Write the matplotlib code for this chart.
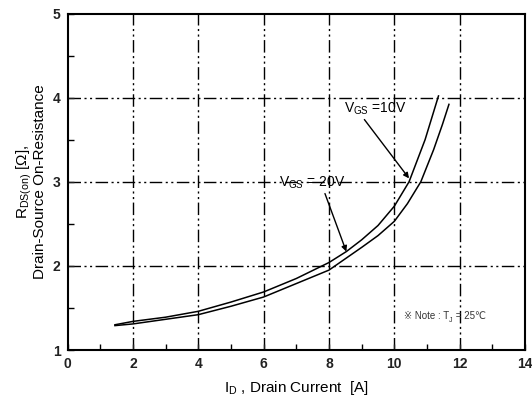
import matplotlib
matplotlib.use("Agg")
import matplotlib.pyplot as plt
from matplotlib.transforms import offset_copy

plt.rcParams['font.family'] = ['Liberation Sans', 'DejaVu Sans', 'Noto Sans CJK SC']
plt.rcParams['mathtext.fontset'] = 'custom'
plt.rcParams['mathtext.rm'] = 'Liberation Sans'
plt.rcParams['mathtext.it'] = 'Liberation Sans'

# Data
id_10v = [1.45, 2, 3, 4, 5, 6, 7, 8, 8.53, 9, 9.5, 10, 10.45, 10.94, 11.35]
r_10v = [1.30, 1.34, 1.39, 1.46, 1.57, 1.69, 1.85, 2.04, 2.17, 2.31, 2.48, 2.71, 3.00, 3.50, 4.02]
id_20v = [1.45, 2, 3, 4, 5, 6, 7, 8, 9, 9.5, 10, 10.4, 10.81, 11.2, 11.47, 11.67]
r_20v = [1.29, 1.31, 1.365, 1.42, 1.52, 1.63, 1.79, 1.95, 2.22, 2.36, 2.53, 2.74, 3.00, 3.38, 3.68, 3.92]

x_ticks = [0, 2, 4, 6, 8, 10, 12, 14]
y_ticks = [1, 2, 3, 4, 5]
x_grid = [2, 4, 6, 8, 10, 12]
y_grid = [2, 3, 4]

fig = plt.figure(figsize=(5.32, 4.03), dpi=100)
ax = fig.add_axes([0.127, 0.1315, 0.8600, 0.835])

grid_ls = (0, (9, 2.5, 1.5, 2.5, 1.5, 2.5))
for gx in x_grid:
    ax.axvline(gx, color='black', lw=1.0, ls=grid_ls, zorder=1)
for gy in y_grid:
    ax.axhline(gy, color='black', lw=1.0, ls=grid_ls, zorder=1)

ax.plot(id_10v, r_10v, color='black', lw=1.1, zorder=3)
ax.plot(id_20v, r_20v, color='black', lw=1.1, zorder=3)

ax.set_xlim(0, 14)
ax.set_ylim(1, 5)
ax.set_xticks(x_ticks)
ax.set_yticks(y_ticks)
ax.set_xticks([1, 3, 5, 7, 9, 11, 13], minor=True)
ax.set_yticks([1.5, 2.5, 3.5, 4.5], minor=True)
ax.tick_params(which='both', direction='in', top=False, right=False)
ax.tick_params(which='major', length=4, width=1.0, labelsize=10, pad=5, colors='#222222')
ax.tick_params(which='minor', length=4, width=1.0)
for lab in ax.get_xticklabels() + ax.get_yticklabels():
    lab.set_fontweight('bold')
for s in ax.spines.values():
    s.set_linewidth(1.5)

ax.set_xlabel(r'I$_{\rm D}$ , Drain Current  [A]', fontsize=11, labelpad=6)
ax.set_ylabel('R$_{\\rm DS(on)}$ [Ω],\nDrain-Source On-Resistance', fontsize=11,
              labelpad=4, linespacing=0.95)

ax.annotate('V$_{\\rm GS}$ =10V', xy=(10.45, 3.04), xytext=(9.4, 3.87),
            fontsize=10, ha='center', va='center',
            arrowprops=dict(arrowstyle='-|>', color='black', lw=1.0,
                            shrinkA=0, shrinkB=0, mutation_scale=8,
                            relpos=(0.3, 0.0)))
ax.annotate('V$_{\\rm GS}$ = 20V', xy=(8.53, 2.17), xytext=(7.48, 2.99),
            fontsize=10, ha='center', va='center',
            arrowprops=dict(arrowstyle='-|>', color='black', lw=1.0,
                            shrinkA=0, shrinkB=0, mutation_scale=8,
                            relpos=(0.68, 0.0)))

# Note text built from pieces (symbols need font fallback, so no mathtext)
fam = ['Liberation Sans', 'DejaVu Sans', 'Noto Sans CJK SC']
t1 = ax.text(10.3, 1.37, '※ Note : T', fontsize=7, ha='left', va='baseline',
             color='#333333', family=fam)
fig.canvas.draw()
r = fig.canvas.get_renderer()
w1 = t1.get_window_extent(r).width * 72 / fig.dpi
t2 = ax.text(10.3, 1.37, 'J', fontsize=5, ha='left', va='baseline', color='#333333',
             family=fam, transform=offset_copy(ax.transData, fig=fig, x=w1, y=-2, units='points'))
fig.canvas.draw()
w2 = t2.get_window_extent(r).width * 72 / fig.dpi
ax.text(10.3, 1.37, ' = 25℃', fontsize=7, ha='left', va='baseline', color='#333333',
        family=fam, transform=offset_copy(ax.transData, fig=fig, x=w1 + w2, y=0, units='points'))

fig.savefig('out.png', dpi=100)
